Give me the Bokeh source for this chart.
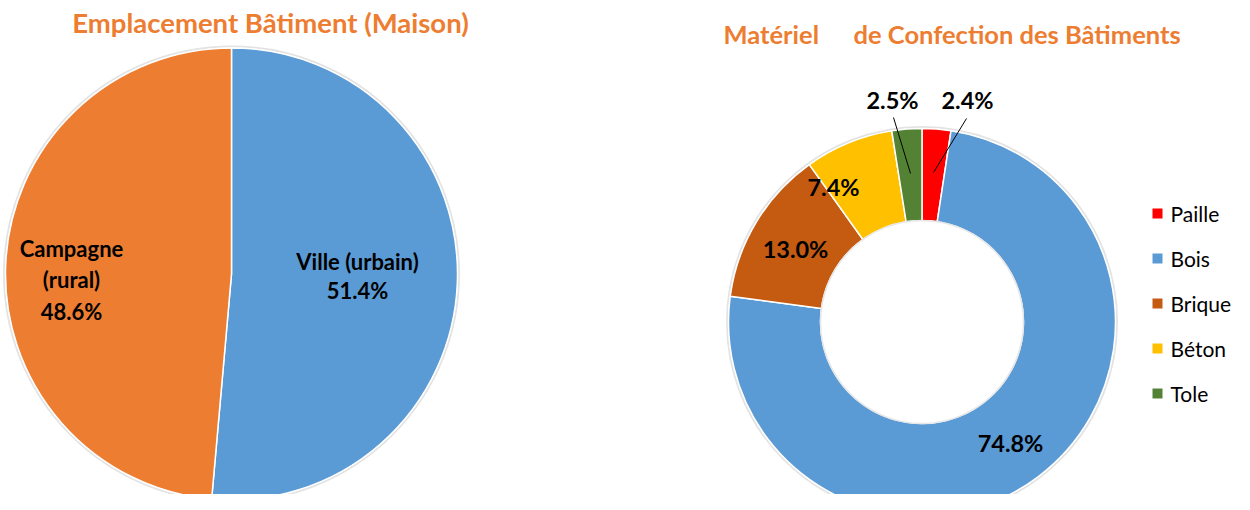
import numpy as np
from bokeh.plotting import figure
from bokeh.models import Range1d, ColumnDataSource
from bokeh.core.properties import value
from bokeh.embed import file_html
from bokeh.resources import INLINE

# ---- data ----
loc_categories = ["Ville (urbain)", "Campagne (rural)"]
loc_values = [51.4, 48.6]
loc_colors = ["#5B9BD5", "#ED7D31"]
loc_label_lines = [["Ville (urbain)", "51.4%"], ["Campagne", "(rural)", "48.6%"]]

mat_categories = ["Paille", "Bois", "Brique", "Béton", "Tole"]
mat_values = [2.4, 74.8, 13.0, 7.4, 2.5]
mat_colors = ["#FF0000", "#5B9BD5", "#C55A11", "#FFC000", "#548235"]
mat_labels = ["2.4%", "74.8%", "13.0%", "7.4%", "2.5%"]

title_left = "Emplacement Bâtiment (Maison)"
title_right_a = "Matériel"
title_right_b = "de Confection des Bâtiments"

FONT = "Lato"
ORANGE = "#ED7D31"

W, H = 1234, 494
p = figure(width=W, height=H, output_backend="svg", toolbar_location=None,
           x_range=Range1d(0, W), y_range=Range1d(0, H),
           min_border=0, outline_line_color=None)
p.axis.visible = False
p.grid.visible = False
p.background_fill_color = "white"


def Y(yref):
    return H - yref


def angles(vals):
    v = np.asarray(vals, dtype=float)
    frac = v / v.sum()
    cum = np.cumsum(frac)
    prev = np.concatenate([[0], cum[:-1]])
    start = np.pi / 2 - prev * 2 * np.pi
    end = np.pi / 2 - cum * 2 * np.pi
    return start, end


# ---- left pie ----
cx1, cy1, r1 = 231, Y(273.5), 226
p.circle(x=[cx1], y=[cy1], radius=r1 + 1.5, fill_color=None, line_color="#e3e3e3", line_width=2)
s1, e1 = angles(loc_values)
src1 = ColumnDataSource(dict(start=s1, end=e1, color=loc_colors, cat=loc_categories))
p.wedge(x=cx1, y=cy1, radius=r1, start_angle="start", end_angle="end", direction="clock",
        fill_color="color", line_color="white", line_width=1.5, source=src1)

# labels left
lab_pos_left = [(357, [261, 290]), (71, [248, 279, 311])]
for (lx, ys), lines in zip(lab_pos_left, loc_label_lines):
    p.text(x=[lx] * len(lines), y=[Y(v) for v in ys], text=lines,
           text_font=value(FONT), text_font_style="bold", text_font_size="22px",
           text_align="center", text_baseline="middle", text_color="black")

# ---- right donut ----
cx2, cy2, ro, ri = 921.5, Y(321.5), 193.5, 101.5
p.circle(x=[cx2], y=[cy2], radius=ro + 1.5, fill_color=None, line_color="#e3e3e3", line_width=2)
s2, e2 = angles(mat_values)
src2 = ColumnDataSource(dict(start=s2, end=e2, color=mat_colors, cat=mat_categories))
p.annular_wedge(x=cx2, y=cy2, inner_radius=ri, outer_radius=ro, start_angle="start",
                end_angle="end", direction="clock", fill_color="color",
                line_color="white", line_width=1.5, source=src2)
p.circle(x=[cx2], y=[cy2], radius=ri, fill_color=None, line_color="#e6e6e6", line_width=1.5)

# donut labels (Paille, Bois, Brique, Béton, Tole)
lab_pos_right = [(967, 99), (1010, 442), (795, 248), (833, 186), (892, 99)]
p.text(x=[q[0] for q in lab_pos_right], y=[Y(q[1]) for q in lab_pos_right], text=mat_labels,
       text_font=value(FONT), text_font_style="bold", text_font_size="23.5px",
       text_align="center", text_baseline="middle", text_color="black")

# leader lines for small slices
p.segment(x0=[893, 966], y0=[Y(117), Y(118)], x1=[910, 933], y1=[Y(173), Y(172)],
          line_color="black", line_width=1)

# legend
leg_y = [213 + 45 * i for i in range(len(mat_categories))]
p.scatter(x=[1157] * len(mat_categories), y=[Y(v) for v in leg_y], marker="square", size=10,
          fill_color=mat_colors, line_color=None)
p.text(x=[1170] * len(mat_categories), y=[Y(v) for v in leg_y], text=mat_categories,
       text_font=value(FONT), text_font_size="21px", text_align="left",
       text_baseline="middle", text_color="black")

# titles
p.text(x=[270], y=[Y(22)], text=[title_left], text_font=value(FONT), text_font_style="bold",
       text_font_size="27.5px", text_align="center", text_baseline="middle", text_color=ORANGE)
p.text(x=[723, 853], y=[Y(33), Y(33)], text=[title_right_a, title_right_b], text_font=value(FONT),
       text_font_style="bold", text_font_size="25.5px", text_align="left", text_baseline="middle",
       text_color=ORANGE)

open("out.html", "w").write(file_html(p, INLINE))
